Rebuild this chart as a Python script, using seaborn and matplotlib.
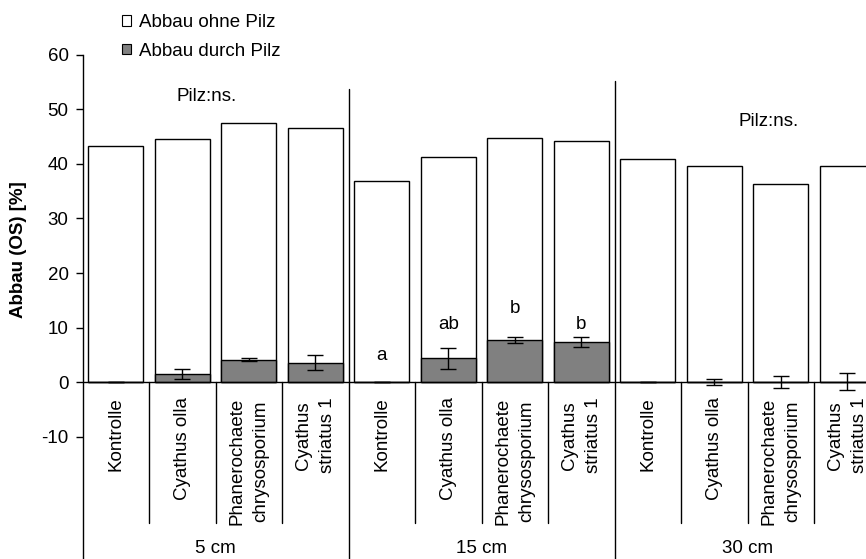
import seaborn as sns
import matplotlib.pyplot as plt
import pandas as pd
from matplotlib.patches import Patch

# Daten
tiefen = ["5 cm", "15 cm", "30 cm"]
varianten = ["Kontrolle", "Cyathus olla", "Phanerochaete\nchrysosporium", "Cyathus\nstriatus 1"]
abbau_gesamt = [43.3, 44.6, 47.4, 46.5, 36.9, 41.2, 44.7, 44.2, 40.9, 39.6, 36.4, 39.6]
abbau_pilz = [0.0, 1.5, 4.1, 3.6, 0.0, 4.4, 7.7, 7.3, 0.0, 0.0, 0.0, 0.1]
fehler_pilz = [0.0, 1.0, 0.3, 1.4, 0.0, 1.9, 0.5, 0.9, 0.0, 0.5, 1.1, 1.6]
buchstaben = ["", "", "", "", "a", "ab", "b", "b", "", "", "", ""]
buchstaben_y = [0, 0, 0, 0, 4.8, 10.6, 13.5, 10.6, 0, 0, 0, 0]

keys = [t + "|" + v for t in tiefen for v in varianten]
df = pd.DataFrame({"key": keys, "gesamt": abbau_gesamt, "pilz": abbau_pilz, "err": fehler_pilz})

sns.set_style("white")
plt.rcParams['font.family'] = ['Liberation Sans', 'DejaVu Sans']
plt.rcParams['axes.unicode_minus'] = False
plt.rcParams['text.color'] = 'black'
plt.rcParams['ytick.color'] = 'black'

fs = 13.5

fig = plt.figure(figsize=(8.66, 5.59), dpi=100)
ax = fig.add_axes([82.55 / 866, 0, 12 * 66.5 / 866, 1 - 54.7 / 559])

sns.barplot(data=df, x="key", y="gesamt", order=keys, color="white", edgecolor="black",
            linewidth=1, width=0.83, saturation=1, errorbar=None, ax=ax)
sns.barplot(data=df, x="key", y="pilz", order=keys, color="#808080", edgecolor="black",
            linewidth=1, width=0.83, saturation=1, errorbar=None, ax=ax)
ax.errorbar(range(len(keys)), df["pilz"], yerr=df["err"], fmt="none", ecolor="black",
            elinewidth=1, capsize=5.5, capthick=1)

ax.set_xlim(-0.5, 11.5)
ax.set_ylim(-32.4, 60)
ax.set_yticks(range(-10, 61, 10))
ax.set_xticks([])
ax.set_xlabel("")
ax.set_ylabel("")
ax.tick_params(axis="y", direction="out", length=5, width=1, left=True, labelsize=fs, pad=5)
for s in ["top", "right", "bottom"]:
    ax.spines[s].set_visible(False)
ax.spines["left"].set_linewidth(1)
ax.spines["left"].set_color("black")
ax.axhline(0, color="black", lw=1)

fig.text(19 / 866, 1 - 250 / 559, "Abbau (OS) [%]", rotation=90, ha="center", va="center",
         fontsize=fs, fontweight="bold")

# Kategorien
for i, k in enumerate(keys):
    ax.text(i, -2.8, k.split("|")[1], rotation=90, ha="center", va="top",
            multialignment="center", fontsize=fs, linespacing=1.5)
    if buchstaben[i]:
        ax.text(i, buchstaben_y[i], buchstaben[i], ha="center", va="center", fontsize=fs)
for x in [0.5, 1.5, 2.5, 4.5, 5.5, 6.5, 8.5, 9.5, 10.5]:
    ax.plot([x, x], [0, -25.8], color="black", lw=1)
ax.plot([3.5, 3.5], [53.7, -32.4], color="black", lw=1, clip_on=False)
ax.plot([7.5, 7.5], [55.2, -32.4], color="black", lw=1, clip_on=False)
for g, t in enumerate(tiefen):
    ax.text(g * 4 + 1.5, -30.4, t, ha="center", va="center", fontsize=fs)

ax.text(1.37, 52.3, "Pilz:ns.", ha="center", va="center", fontsize=fs)
ax.text(9.81, 47.7, "Pilz:ns.", ha="center", va="center", fontsize=fs)

handles = [Patch(facecolor="white", edgecolor="black", lw=0.8),
           Patch(facecolor="#808080", edgecolor="black", lw=0.8)]
fig.legend(handles, ["Abbau ohne Pilz", "Abbau durch Pilz"], loc="upper left",
           bbox_to_anchor=(122 / 866, 1 - 14 / 559), frameon=False, fontsize=fs,
           handlelength=0.5, handleheight=0.5, handletextpad=0.4, labelspacing=0.62,
           borderpad=0, borderaxespad=0)

plt.savefig("out.png", dpi=100)
